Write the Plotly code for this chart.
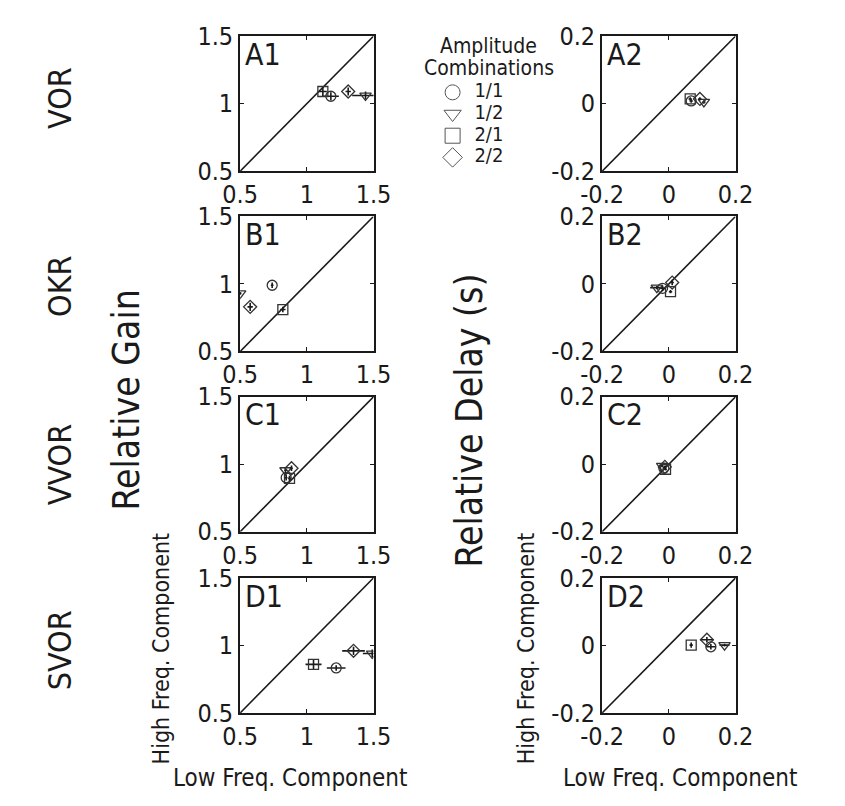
import plotly.graph_objects as go

# ---------------- data ----------------
conditions = ["VOR", "OKR", "VVOR", "SVOR"]
combos = ["1/1", "1/2", "2/1", "2/2"]
symbols = ["circle-open", "triangle-down-open", "square-open", "diamond-open"]

# Relative gain: low-freq component (x) vs high-freq component (y), order = combos
gain_x = {
    "VOR":  [1.18, 1.44, 1.12, 1.31],
    "OKR":  [0.74, 0.50, 0.82, 0.575],
    "VVOR": [0.845, 0.84, 0.87, 0.885],
    "SVOR": [1.22, 1.49, 1.05, 1.35],
}
gain_y = {
    "VOR":  [1.055, 1.06, 1.09, 1.09],
    "OKR":  [0.99, 0.93, 0.81, 0.83],
    "VVOR": [0.90, 0.955, 0.895, 0.97],
    "SVOR": [0.833, 0.94, 0.86, 0.96],
}
gain_xerr = {
    "VOR":  [0.06, 0.10, 0.03, 0.02],
    "OKR":  [0.01, 0.01, 0.02, 0.02],
    "VVOR": [0.01, 0.01, 0.01, 0.01],
    "SVOR": [0.07, 0.07, 0.06, 0.085],
}
gain_yerr = {
    "VOR":  [0.03, 0.03, 0.04, 0.03],
    "OKR":  [0.02, 0.01, 0.02, 0.03],
    "VVOR": [0.02, 0.02, 0.02, 0.02],
    "SVOR": [0.02, 0.03, 0.04, 0.03],
}

# Relative delay (s)
delay_x = {
    "VOR":  [0.067, 0.105, 0.064, 0.093],
    "OKR":  [-0.019, -0.036, 0.005, 0.010],
    "VVOR": [-0.015, -0.020, -0.010, -0.012],
    "SVOR": [0.126, 0.167, 0.067, 0.114],
}
delay_y = {
    "VOR":  [0.008, 0.005, 0.014, 0.014],
    "OKR":  [-0.013, -0.011, -0.023, 0.004],
    "VVOR": [-0.012, -0.005, -0.015, -0.008],
    "SVOR": [-0.004, 0.001, 0.001, 0.017],
}
delay_xerr = {
    "VOR":  [0.005, 0.005, 0.005, 0.005],
    "OKR":  [0.010, 0.020, 0.005, 0.005],
    "VVOR": [0.004, 0.004, 0.004, 0.004],
    "SVOR": [0.015, 0.015, 0.005, 0.020],
}
delay_yerr = {
    "VOR":  [0.005, 0.005, 0.005, 0.005],
    "OKR":  [0.008, 0.005, 0.005, 0.008],
    "VVOR": [0.004, 0.004, 0.004, 0.004],
    "SVOR": [0.008, 0.004, 0.008, 0.008],
}

gain_range = [0.5, 1.5]
gain_ticks = [0.5, 1, 1.5]
gain_ticktext = ["0.5", "1", "1.5"]
delay_range = [-0.2, 0.2]
delay_ticks = [-0.2, 0, 0.2]
delay_ticktext = ["-0.2", "0", "0.2"]
panel_letters = ["A", "B", "C", "D"]

# ---------------- layout geometry (pixels) ----------------
W, H = 845, 806
col_left = [229, 609]
box = 140
row_top = [23, 210, 397, 585]

FONT = "DejaVu Sans Condensed, Liberation Sans Narrow, DejaVu Sans"
INK = "#1a1a1a"

fig = go.Figure()
layout = dict(
    width=W, height=H, margin=dict(l=0, r=0, t=0, b=0),
    paper_bgcolor="white", plot_bgcolor="white", showlegend=False,
    font=dict(family=FONT, color=INK),
)
annotations = []

for r, cond in enumerate(conditions):
    for c in range(2):
        idx = r * 2 + c + 1
        xa = "x" if idx == 1 else f"x{idx}"
        ya = "y" if idx == 1 else f"y{idx}"
        if c == 0:
            xs, ys, xe, ye = gain_x[cond], gain_y[cond], gain_xerr[cond], gain_yerr[cond]
            rng, tv, tt = gain_range, gain_ticks, gain_ticktext
        else:
            xs, ys, xe, ye = delay_x[cond], delay_y[cond], delay_xerr[cond], delay_yerr[cond]
            rng, tv, tt = delay_range, delay_ticks, delay_ticktext
        # identity line
        fig.add_trace(go.Scatter(x=rng, y=rng, mode="lines", xaxis=xa, yaxis=ya,
                                 line=dict(color=INK, width=1.6), hoverinfo="skip"))
        for k in range(len(combos)):
            fig.add_trace(go.Scatter(
                x=[xs[k]], y=[ys[k]], mode="markers", xaxis=xa, yaxis=ya,
                name=combos[k],
                marker=dict(symbol=symbols[k], size=10, color="#333333",
                            line=dict(width=1.3, color="#333333")),
                error_x=dict(type="data", array=[xe[k]], width=0, thickness=1.6, color=INK),
                error_y=dict(type="data", array=[ye[k]], width=0, thickness=1.6, color=INK),
            ))
        x0 = col_left[c] / W
        x1 = (col_left[c] + box) / W
        y1 = 1 - row_top[r] / H
        y0 = 1 - (row_top[r] + box) / H
        axcommon = dict(showline=True, mirror="ticks", linecolor=INK, linewidth=2,
                        ticks="inside", ticklen=4, tickwidth=1, tickcolor=INK,
                        showgrid=False, zeroline=False, range=rng,
                        tickmode="array", tickvals=tv, ticktext=tt,
                        tickfont=dict(family=FONT, size=25, color=INK),
                        fixedrange=True)
        layout["xaxis" if idx == 1 else f"xaxis{idx}"] = dict(
            domain=[x0, x1], anchor=ya, **axcommon)
        layout["yaxis" if idx == 1 else f"yaxis{idx}"] = dict(
            domain=[y0, y1], anchor=xa, **axcommon)
        annotations.append(dict(
            text=f"{panel_letters[r]}{c + 1}", xref=f"{xa} domain", yref=f"{ya} domain",
            x=0.02, y=1.01, xanchor="left", yanchor="top", showarrow=False,
            font=dict(family=FONT, size=30, color=INK)))

# row labels
row_label_y = [87, 282, 468, 660]
for r, cond in enumerate(conditions):
    annotations.append(dict(text=cond, xref="paper", yref="paper", x=40 / W,
                            y=1 - row_label_y[r] / H, textangle=-90, showarrow=False,
                            xanchor="center", yanchor="middle",
                            font=dict(family=FONT, size=32, color=INK)))

def add_text(txt, px, py, size, angle=0):
    annotations.append(dict(text=txt, xref="paper", yref="paper", x=px / W, y=1 - py / H,
                            textangle=angle, showarrow=False, xanchor="center",
                            yanchor="middle", font=dict(family=FONT, size=size, color=INK)))

add_text("Relative Gain", 110, 400, 37, -90)
add_text("Relative Delay (s)", 470, 422, 37, -90)
add_text("High Freq. Component", 146, 658, 23, -90)
add_text("High Freq. Component", 529, 658, 23, -90)
add_text("Low Freq. Component", 281, 792, 24)
add_text("Low Freq. Component", 691, 792, 24)

# legend block
add_text("Amplitude", 490, 33, 21)
add_text("Combinations", 490, 56, 21)
leg_rows = list(range(len(combos)))
layout["xaxis9"] = dict(domain=[430 / W, 530 / W], range=[0, 1], visible=False,
                        fixedrange=True, anchor="y9")
layout["yaxis9"] = dict(domain=[1 - 160 / H, 1 - 70 / H], range=[3.5, -0.5], visible=False,
                        fixedrange=True, anchor="x9")
for k in leg_rows:
    fig.add_trace(go.Scatter(
        x=[0.22], y=[k], mode="markers+text", xaxis="x9", yaxis="y9",
        text=["  " + combos[k]], textposition="middle right",
        textfont=dict(family=FONT, size=20, color=INK),
        marker=dict(symbol=symbols[k], size=15, color="#555555",
                    line=dict(width=1, color="#555555")),
        hoverinfo="skip"))

layout["annotations"] = annotations
fig.update_layout(**layout)
fig.write_html("out.html")
